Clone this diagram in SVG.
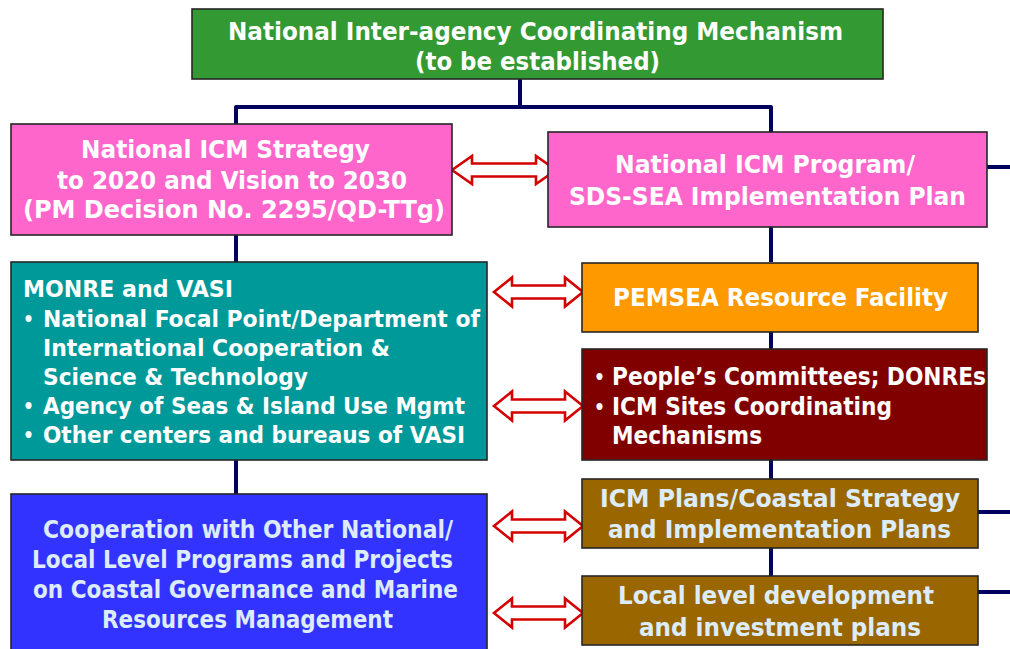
<svg xmlns="http://www.w3.org/2000/svg" width="1010" height="649" viewBox="0 0 1010 649">
<style>
.box{stroke:#262626;stroke-width:1.6}
.t{font-family:"DejaVu Sans Condensed","DejaVu Sans",sans-serif;font-weight:bold;font-size:24px;fill:#ffffff}
.s{font-size:22.5px}
.b{font-size:19px}
.lb{fill:#dcecfb}
.ln{fill:none;stroke:#00005e;stroke-width:4;stroke-linejoin:round}
.ar{fill:#ffffff;stroke:#d40000;stroke-width:2.6;stroke-linejoin:miter}
</style>
<rect width="1010" height="649" fill="#ffffff"/>
<g id="connectors">
<path class="ln" d="M520,79 V107 M236,124 V107 H771 V132"/>
<path class="ln" d="M236,235 V262 M236,460 V494"/>
<path class="ln" d="M771,227 V262 M771,331 V349 M771,460 V479 M771,548 V576"/>
<path class="ln" d="M987,167 H1012 M978,512 H1012 M978,592 H1012"/>
<path class="ar" d="M452,170 L472,156 L472,163.5 L536,163.5 L536,156 L556,170 L536,184 L536,176.5 L472,176.5 L472,184 Z"/>
<path class="ar" d="M494,292 L512,277.5 L512,285.5 L565,285.5 L565,277.5 L583,292 L565,306.5 L565,298.5 L512,298.5 L512,306.5 Z"/>
<path class="ar" d="M494,406 L512,391.5 L512,399.5 L565,399.5 L565,391.5 L583,406 L565,420.5 L565,412.5 L512,412.5 L512,420.5 Z"/>
<path class="ar" d="M494,526 L512,511.5 L512,519.5 L565,519.5 L565,511.5 L583,526 L565,540.5 L565,532.5 L512,532.5 L512,540.5 Z"/>
<path class="ar" d="M494,613 L512,598.5 L512,606.5 L565,606.5 L565,598.5 L583,613 L565,627.5 L565,619.5 L512,619.5 L512,627.5 Z"/>
</g>
<g id="n-mechanism">
<rect class="box" x="192" y="9" width="691" height="70" fill="#339933"/>
<text class="t" x="228" y="40" textLength="615" lengthAdjust="spacingAndGlyphs">National Inter-agency Coordinating Mechanism</text>
<text class="t" x="415" y="70" textLength="245" lengthAdjust="spacingAndGlyphs">(to be established)</text>
</g>
<g id="n-strategy">
<rect class="box" x="11" y="124" width="441" height="111" fill="#ff66cc"/>
<text class="t" x="81" y="158" textLength="289" lengthAdjust="spacingAndGlyphs">National ICM Strategy</text>
<text class="t" x="57" y="189" textLength="350" lengthAdjust="spacingAndGlyphs">to 2020 and Vision to 2030</text>
<text class="t" x="23" y="218" textLength="422" lengthAdjust="spacingAndGlyphs">(PM Decision No. 2295/QD-TTg)</text>
</g>
<g id="n-program">
<rect class="box" x="548" y="132" width="439" height="95" fill="#ff66cc"/>
<text class="t" x="615" y="173" textLength="300" lengthAdjust="spacingAndGlyphs">National ICM Program/</text>
<text class="t" x="569" y="205" textLength="397" lengthAdjust="spacingAndGlyphs">SDS-SEA Implementation Plan</text>
</g>
<g id="n-monre">
<rect class="box" x="11" y="262" width="476" height="198" fill="#009999"/>
<text class="t s" x="23" y="297" textLength="210" lengthAdjust="spacingAndGlyphs">MONRE and VASI</text>
<text class="t b" x="23" y="326">•</text>
<text class="t s" x="43" y="327" textLength="437" lengthAdjust="spacingAndGlyphs">National Focal Point/Department of</text>
<text class="t s" x="43" y="356" textLength="347" lengthAdjust="spacingAndGlyphs">International Cooperation &amp;</text>
<text class="t s" x="43" y="385" textLength="265" lengthAdjust="spacingAndGlyphs">Science &amp; Technology</text>
<text class="t b" x="23" y="413">•</text>
<text class="t s" x="43" y="414" textLength="422" lengthAdjust="spacingAndGlyphs">Agency of Seas &amp; Island Use Mgmt</text>
<text class="t b" x="23" y="442">•</text>
<text class="t s" x="43" y="443" textLength="422" lengthAdjust="spacingAndGlyphs">Other centers and bureaus of VASI</text>
</g>
<g id="n-pemsea">
<rect class="box" x="582" y="263" width="396" height="69" fill="#ff9900"/>
<text class="t" x="613" y="306" textLength="335" lengthAdjust="spacingAndGlyphs">PEMSEA Resource Facility</text>
</g>
<g id="n-committees">
<rect class="box" x="582" y="349" width="405" height="111" fill="#800000"/>
<text class="t b" x="594" y="384">•</text>
<text class="t" x="612" y="385" textLength="374" lengthAdjust="spacingAndGlyphs">People’s Committees; DONREs</text>
<text class="t b" x="594" y="414">•</text>
<text class="t" x="612" y="415" textLength="280" lengthAdjust="spacingAndGlyphs">ICM Sites Coordinating</text>
<text class="t" x="612" y="444" textLength="150" lengthAdjust="spacingAndGlyphs">Mechanisms</text>
</g>
<g id="n-cooperation">
<rect class="box" x="11" y="494" width="476" height="170" fill="#3333ff"/>
<text class="t lb" x="43" y="538" textLength="410" lengthAdjust="spacingAndGlyphs">Cooperation with Other National/</text>
<text class="t lb" x="32" y="568" textLength="421" lengthAdjust="spacingAndGlyphs">Local Level Programs and Projects</text>
<text class="t lb" x="33" y="598" textLength="425" lengthAdjust="spacingAndGlyphs">on Coastal Governance and Marine</text>
<text class="t lb" x="102" y="628" textLength="291" lengthAdjust="spacingAndGlyphs">Resources Management</text>
</g>
<g id="n-icmplans">
<rect class="box" x="582" y="479" width="396" height="69" fill="#996600"/>
<text class="t lb" x="600" y="507" textLength="360" lengthAdjust="spacingAndGlyphs">ICM Plans/Coastal Strategy</text>
<text class="t lb" x="608" y="538" textLength="343" lengthAdjust="spacingAndGlyphs">and Implementation Plans</text>
</g>
<g id="n-local">
<rect class="box" x="582" y="576" width="396" height="69" fill="#996600"/>
<text class="t lb" x="618" y="604" textLength="316" lengthAdjust="spacingAndGlyphs">Local level development</text>
<text class="t lb" x="639" y="636" textLength="282" lengthAdjust="spacingAndGlyphs">and investment plans</text>
</g>
</svg>
